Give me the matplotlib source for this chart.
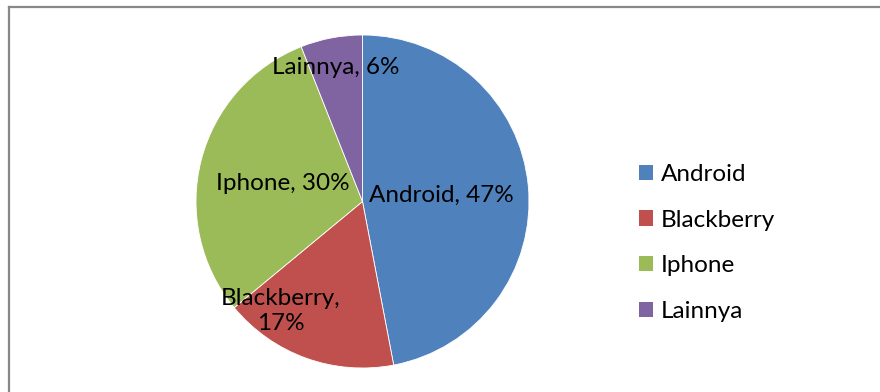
import matplotlib
matplotlib.use("Agg")
import matplotlib.pyplot as plt
from matplotlib.lines import Line2D
from matplotlib.patches import Patch

categories = ["Android", "Blackberry", "Iphone", "Lainnya"]
values = [47, 17, 30, 6]
colors = ["#4F81BD", "#C0504D", "#9BBB59", "#8064A2"]

plt.rcParams['font.family'] = ['Lato', 'DejaVu Sans']

W, H = 880, 392
fig = plt.figure(figsize=(W/100, H/100), dpi=100)
ax = fig.add_axes([0, 0, 1, 1])

cx, cy, r = 362.5, H - 201.5, 166.5
wedges, _ = ax.pie(values, colors=colors, startangle=90, counterclock=False,
                   center=(cx, cy), radius=r, frame=True,
                   wedgeprops=dict(edgecolor='white', linewidth=0.6))
ax.set_xlim(0, W)
ax.set_ylim(0, H)
ax.set_aspect('equal')
ax.axis('off')

fs = 17.5
label_pos = [(441, 195), (281, 311), (283, 183), (336, 67)]
labels = [f"{c}, {v}%" for c, v in zip(categories, values)]
labels[1] = f"{categories[1]},\n{values[1]}%"
for (x, y), t in zip(label_pos, labels):
    ax.text(x, H - y, t, ha='center', va='center', fontsize=fs, color='black',
            linespacing=1.25)

handles = [Patch(facecolor=c, edgecolor='none') for c in colors]
fig.legend(handles, categories, loc='center left', bbox_to_anchor=(639/W, 1 - 243/H),
           frameon=False, fontsize=fs, handlelength=0.58, handleheight=0.58,
           handletextpad=0.32, labelspacing=1.02, borderpad=0, borderaxespad=0)

fig.add_artist(Line2D([8.5/W, 8.5/W], [0, 1 - 6.5/H], color='#888888', lw=1.6,
                      transform=fig.transFigure))
fig.add_artist(Line2D([8.5/W, 1], [1 - 6.5/H, 1 - 6.5/H], color='#888888', lw=1.6,
                      transform=fig.transFigure))

fig.savefig("out.png", dpi=100)
